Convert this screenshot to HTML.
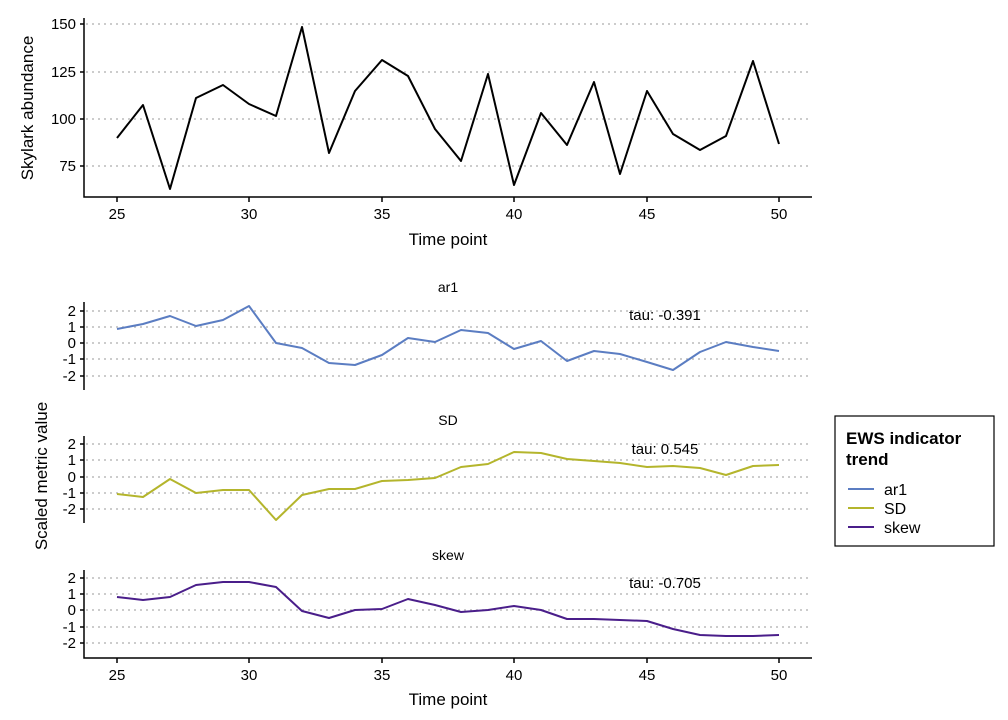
<!DOCTYPE html>
<html><head><style>body{margin:0;background:#fff}svg{display:block}text{font-family:"Liberation Sans",sans-serif;fill:#000}</style></head><body>
<svg width="1008" height="720" viewBox="0 0 1008 720">
<g stroke="#bbb" stroke-width="1.5" stroke-dasharray="2,4">
<line x1="86" x2="812" y1="24" y2="24"/><line x1="86" x2="812" y1="72" y2="72"/><line x1="86" x2="812" y1="119" y2="119"/><line x1="86" x2="812" y1="166" y2="166"/>
<line x1="86" x2="812" y1="311" y2="311"/><line x1="86" x2="812" y1="327" y2="327"/><line x1="86" x2="812" y1="343" y2="343"/><line x1="86" x2="812" y1="359" y2="359"/><line x1="86" x2="812" y1="376" y2="376"/>
<line x1="86" x2="812" y1="444" y2="444"/><line x1="86" x2="812" y1="460" y2="460"/><line x1="86" x2="812" y1="477" y2="477"/><line x1="86" x2="812" y1="493" y2="493"/><line x1="86" x2="812" y1="509" y2="509"/>
<line x1="86" x2="812" y1="578" y2="578"/><line x1="86" x2="812" y1="594" y2="594"/><line x1="86" x2="812" y1="610" y2="610"/><line x1="86" x2="812" y1="627" y2="627"/><line x1="86" x2="812" y1="643" y2="643"/>
</g>
<g stroke="#000" stroke-width="1.5" fill="none">
<path d="M84 18V197H812"/>
<path d="M84 302V390"/><path d="M84 436V523"/><path d="M84 570V658H812"/>
<path d="M80 24H84M80 72H84M80 119H84M80 166H84"/>
<path d="M80 311H84M80 327H84M80 343H84M80 359H84M80 376H84"/>
<path d="M80 444H84M80 460H84M80 477H84M80 493H84M80 509H84"/>
<path d="M80 578H84M80 594H84M80 610H84M80 627H84M80 643H84"/>
<path d="M117 197V202M249 197V202M382 197V202M514 197V202M647 197V202M779 197V202"/>
<path d="M117 658V663M249 658V663M382 658V663M514 658V663M647 658V663M779 658V663"/>
</g>
<g font-size="15" text-anchor="middle">
<text x="117" y="219">25</text><text x="249" y="219">30</text><text x="382" y="219">35</text><text x="514" y="219">40</text><text x="647" y="219">45</text><text x="779" y="219">50</text>
<text x="448" y="245" font-size="17">Time point</text>
<text x="117" y="680">25</text><text x="249" y="680">30</text><text x="382" y="680">35</text><text x="514" y="680">40</text><text x="647" y="680">45</text><text x="779" y="680">50</text>
<text x="448" y="705" font-size="17">Time point</text>
<text x="448" y="292" font-size="14">ar1</text><text x="448" y="425" font-size="14">SD</text><text x="448" y="560" font-size="14">skew</text>
</g>
<g font-size="15" text-anchor="end">
<text x="76" y="29">150</text><text x="76" y="77">125</text><text x="76" y="124">100</text><text x="76" y="171">75</text>
</g>
<g font-size="15" text-anchor="end">
<text x="76" y="316">2</text><text x="76" y="332">1</text><text x="76" y="348">0</text><text x="76" y="364">-1</text><text x="76" y="381">-2</text>
<text x="76" y="449">2</text><text x="76" y="465">1</text><text x="76" y="482">0</text><text x="76" y="498">-1</text><text x="76" y="514">-2</text>
<text x="76" y="583">2</text><text x="76" y="599">1</text><text x="76" y="615">0</text><text x="76" y="632">-1</text><text x="76" y="648">-2</text>
</g>
<text transform="translate(33,108) rotate(-90)" font-size="17" text-anchor="middle">Skylark abundance</text>
<text transform="translate(47,476) rotate(-90)" font-size="17" text-anchor="middle">Scaled metric value</text>
<g font-size="15" text-anchor="middle"><text x="665" y="320">tau: -0.391</text><text x="665" y="454">tau: 0.545</text><text x="665" y="588">tau: -0.705</text></g>
<g fill="none" stroke-width="2" stroke-linejoin="round">
<polyline stroke="#000" points="117,138 143,105 170,189 196,98 223,85 249,104 276,116 302,27 329,153 355,91 382,60 408,76 435,129 461,161 488,74 514,185 541,113 567,145 594,82 620,174 647,91 673,134 700,150 726,136 753,61 779,144"/>
<polyline stroke="#5b7dc2" points="117,329 143,324 170,316 196,326 223,320 249,306 276,343 302,348 329,363 355,365 382,355 408,338 435,342 461,330 488,333 514,349 541,341 567,361 594,351 620,354 647,362 673,370 700,352 726,342 753,347 779,351"/>
<polyline stroke="#b4b52c" points="117,494 143,497 170,479 196,493 223,490 249,490 276,520 302,495 329,489 355,489 382,481 408,480 435,478 461,467 488,464 514,452 541,453 567,459 594,461 620,463 647,467 673,466 700,468 726,475 753,466 779,465"/>
<polyline stroke="#4a1e8a" points="117,597 143,600 170,597 196,585 223,582 249,582 276,587 302,611 329,618 355,610 382,609 408,599 435,605 461,612 488,610 514,606 541,610 567,619 594,619 620,620 647,621 673,629 700,635 726,636 753,636 779,635"/>
</g>
<rect x="835" y="416" width="159" height="130" fill="#fff" stroke="#000" stroke-width="1.2"/>
<text x="846" y="444" font-size="17" font-weight="bold">EWS indicator</text>
<text x="846" y="465" font-size="17" font-weight="bold">trend</text>
<g stroke-width="2"><line x1="848" x2="874" y1="489" y2="489" stroke="#5b7dc2"/><line x1="848" x2="874" y1="508" y2="508" stroke="#b4b52c"/><line x1="848" x2="874" y1="527" y2="527" stroke="#4a1e8a"/></g>
<g font-size="16"><text x="884" y="495">ar1</text><text x="884" y="514">SD</text><text x="884" y="533">skew</text></g>
</svg>
</body></html>
